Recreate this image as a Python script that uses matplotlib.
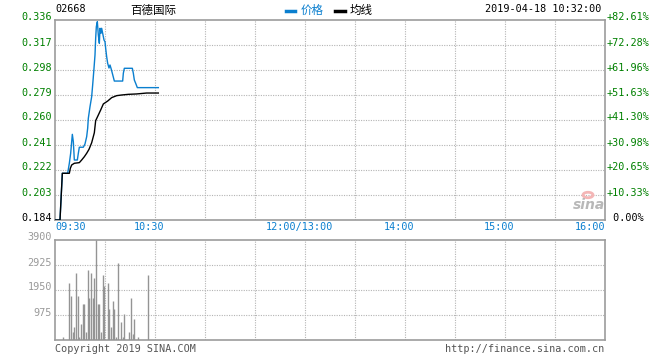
import matplotlib
matplotlib.use("Agg")
import matplotlib.pyplot as plt
import matplotlib.transforms as mtransforms
from matplotlib.patches import Circle

# --- header / labels ---
code = "02668"
name = "百德国际"
stamp = "2019-04-18 10:32:00"
legend_names = ["价格", "均线"]

price_ticks = [0.184, 0.203, 0.222, 0.241, 0.260, 0.279, 0.298, 0.317, 0.336]
price_labels = ["0.184", "0.203", "0.222", "0.241", "0.260", "0.279", "0.298", "0.317", "0.336"]
pct_labels = [" 0.00%", "+10.33%", "+20.65%", "+30.98%", "+41.30%",
              "+51.63%", "+61.96%", "+72.28%", "+82.61%"]
time_ticks = [0, 60, 150, 270, 330]
time_labels = ["09:30", "10:30", "12:00/13:00", "15:00", "16:00"]
time_ticks2 = [210]
time_labels2 = ["14:00"]
vol_ticks = [975, 1950, 2925, 3900]
vol_labels = ["975", "1950", "2925", "3900"]

# --- price line (minutes after 09:30, price) ---
price_t = [0, 3, 4.4, 7.6, 8.6, 9.4, 10.4, 11.0, 11.6, 13.4, 14.0, 14.6, 17.0, 18.0,
           19.0, 19.6, 20.0, 21.0, 22.0, 22.6, 23.4, 24.0, 24.4, 24.8, 25.4, 26.0,
           26.6, 27.0, 27.6, 28.0, 28.6, 29.4, 30.0, 30.4, 31.0, 31.6, 32.4, 33.0,
           33.6, 34.4, 35.6, 40.6, 41.0, 41.6, 46.4, 47.0, 47.6, 48.4, 49.4, 62]
price_v = [0.184, 0.184, 0.2195, 0.2195, 0.2271, 0.2347, 0.2491, 0.2435, 0.2296,
           0.2296, 0.2347, 0.2393, 0.2393, 0.2418, 0.2473, 0.2537, 0.2613, 0.2701,
           0.2777, 0.2866, 0.2993, 0.3094, 0.3221, 0.3309, 0.3347, 0.3246, 0.3183,
           0.3297, 0.3259, 0.3297, 0.3259, 0.3208, 0.3195, 0.3145, 0.3081, 0.3031,
           0.2995, 0.3018, 0.2993, 0.2955, 0.2896, 0.2896, 0.2955, 0.2993, 0.2993,
           0.2955, 0.2904, 0.2879, 0.2846, 0.2846]

# --- average line ---
avg_t = [0, 3, 4.4, 8.6, 9.2, 10.0, 11.6, 14.6, 16.0, 17.6, 19.0, 20.4, 22.0, 23.6,
         24.4, 26.0, 27.4, 29.0, 31.6, 34.0, 37.0, 40.0, 44.0, 49.0, 55.0, 62.0]
avg_v = [0.184, 0.184, 0.2195, 0.2195, 0.2233, 0.2258, 0.2271, 0.2276, 0.2296,
         0.2321, 0.2347, 0.2377, 0.2427, 0.2503, 0.2595, 0.2638, 0.2676, 0.2722,
         0.2744, 0.2770, 0.2785, 0.2790, 0.2795, 0.2798, 0.2805, 0.2805]

# --- volume per minute ---
vol_t = [4, 8, 9, 10, 11, 12, 13, 14, 15, 16, 17, 18, 19, 20, 21, 22, 23, 24, 25, 26,
         27, 28, 29, 31, 32, 33, 34, 35, 36, 37, 39, 40, 41, 44, 45, 46, 47, 49, 55]
vol_v = [117, 2236, 1716, 312, 507, 2626, 1716, 117, 637, 1417, 1417, 312, 2743, 1651,
         2626, 1651, 2431, 3900, 1417, 1417, 312, 2535, 2106, 2236, 1222, 507, 1521,
         1222, 117, 3003, 702, 117, 1027, 312, 1651, 247, 832, 117, 2535]

W, H = 660, 360
GREEN = "#008000"
BLUE = "#0a7fcf"
GRID = "#b4b4b4"
FRAME = "#9c9c9c"
MONO = "DejaVu Sans Mono"
CJK = ["Noto Sans CJK SC", "DejaVu Sans"]

fig = plt.figure(figsize=(W / 100, H / 100), dpi=100)
fig.patch.set_facecolor("white")


def box(x0, y0, x1, y1):
    return [x0 / W, 1 - y1 / H, (x1 - x0) / W, (y1 - y0) / H]


ax = fig.add_axes(box(55, 20, 605, 220))
axv = fig.add_axes(box(55, 240, 605, 340))

for a in (ax, axv):
    a.set_xlim(0, 330)
    a.set_xticks([])
    a.set_yticks([])
    for s in a.spines.values():
        s.set_color(FRAME)
        s.set_linewidth(1.2)
    for t in range(30, 330, 30):
        a.axvline(t, color=GRID, lw=0.8, ls=(0, (1, 1.2)), zorder=0)

ax.set_ylim(price_ticks[0], price_ticks[-1])
for v in price_ticks[1:-1]:
    ax.axhline(v, color=GRID, lw=0.8, ls=(0, (1, 1.2)), zorder=0)

axv.set_ylim(0, 3900)
for v in vol_ticks[:-1]:
    axv.axhline(v, color=GRID, lw=0.8, ls=(0, (1, 1.2)), zorder=0)

ax.plot(price_t, price_v, color=BLUE, lw=1.0, zorder=3)
ax.plot(avg_t, avg_v, color="black", lw=1.0, zorder=4)

axv.vlines([t + 0.6 for t in vol_t], 0, vol_v, color="#949494", lw=1.0, zorder=3)

# left / right price labels
up = mtransforms.ScaledTranslation(0, 2.5 / 100, fig.dpi_scale_trans)
tl = mtransforms.blended_transform_factory(ax.transAxes, ax.transData) + up
for i, (v, lab) in enumerate(zip(price_ticks, price_labels)):
    col = "black" if i == 0 else GREEN
    ax.text(-3 / 550, v, lab, transform=tl, ha="right", va="center",
            family=MONO, fontsize=7.3, color=col)
    ax.text(1 + 2 / 550, v, pct_labels[i], transform=tl, ha="left", va="center",
            family=MONO, fontsize=7.3, color=col)

# time labels
tt = mtransforms.blended_transform_factory(ax.transData, ax.transAxes)
shift = mtransforms.ScaledTranslation(-6 / 100, 0, fig.dpi_scale_trans)
for t, lab in zip(time_ticks + time_ticks2, time_labels + time_labels2):
    if t == 0:
        ha, tr = "left", tt
    elif t == 330:
        ha, tr = "right", tt
    else:
        ha, tr = "center", tt + shift
    ax.text(t, -7 / 200, lab, transform=tr, ha=ha, va="center",
            family=MONO, fontsize=7.3, color=BLUE)

# volume labels
tv = mtransforms.blended_transform_factory(axv.transAxes, axv.transData) + up
for v, lab in zip(vol_ticks, vol_labels):
    axv.text(-3 / 550, v, lab, transform=tv, ha="right", va="center",
             family=MONO, fontsize=7.3, color="#999999")

# header
def px(x, y):
    return x / W, 1 - y / H

fig.text(*px(55, 9), code, ha="left", va="center", family=MONO, fontsize=7.3)
fig.text(*px(153, 10), name, ha="center", va="center", family=CJK, fontsize=8.3)
fig.add_artist(plt.Line2D([286 / W, 295 / W], [1 - 11 / H] * 2, color=BLUE, lw=2.5))
fig.text(*px(301, 10), legend_names[0], ha="left", va="center", family=CJK,
         fontsize=8.3, color=BLUE)
fig.add_artist(plt.Line2D([335 / W, 345 / W], [1 - 11 / H] * 2, color="black", lw=2.5))
fig.text(*px(350, 10), legend_names[1], ha="left", va="center", family=CJK,
         fontsize=8.3, color="black")
fig.text(*px(601, 9), stamp, ha="right", va="center", family=MONO, fontsize=7.3)

# footer
fig.text(*px(55, 349), "Copyright 2019 SINA.COM", ha="left", va="center",
         family=MONO, fontsize=7.3, color="#555555")
fig.text(*px(604, 349), "http://finance.sina.com.cn", ha="right", va="center",
         family=MONO, fontsize=7.3, color="#555555")

# sina watermark
fig.add_artist(Circle(px(588, 195), 5 / W, transform=fig.transFigure,
                      facecolor="none", edgecolor="#f4b6b6", lw=2.0))
fig.text(*px(589, 205), "sina", ha="center", va="center", fontsize=10,
         style="italic", weight="bold", color="#b8b8b8", family="DejaVu Sans")

fig.savefig("out.png", dpi=100)
